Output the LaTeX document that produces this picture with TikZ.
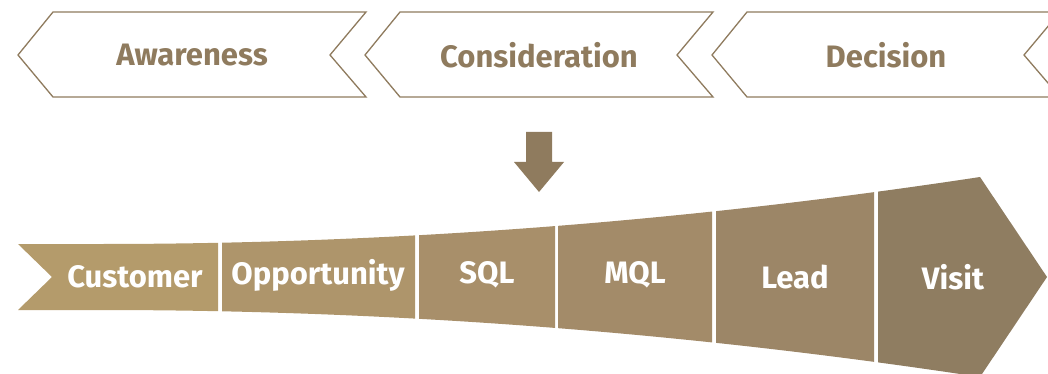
\documentclass[tikz,border=0pt]{standalone}
\usepackage{fontspec}
\setmainfont{Fira Sans}
\begin{document}
\begin{tikzpicture}[x=1pt,y=-1pt,
  stage/.style={draw=brownline,line width=1.3pt,fill=white},
  stagetext/.style={text=brownline,font=\fontsize{31}{32}\selectfont\bfseries},
  segtext/.style={text=white,font=\fontsize{31}{32}\selectfont\bfseries}]
\definecolor{brownline}{HTML}{8F7B5E}
\definecolor{cA}{HTML}{B49B6B}
\definecolor{cB}{HTML}{AE956B}
\definecolor{cC}{HTML}{A88F6A}
\definecolor{cD}{HTML}{A38B69}
\definecolor{cE}{HTML}{9C8667}
\definecolor{cF}{HTML}{8F7D61}
\useasboundingbox (0,0) rectangle (1048,374);
\clip (0,0) rectangle (1048,374);

% stage chevrons (pointing left, notched on the right)
\foreach \dx/\nm in {0/aw,347/co,694/de}{
  \begin{scope}[xshift=\dx pt]
    \draw[stage] (18,55) -- (53,12) -- (366,12) -- (330,55) -- (366,97) -- (53,97) -- cycle;
    \coordinate (\nm) at (192,55);
  \end{scope}
}
\node[stagetext] (awt) at (aw) {Awareness};
\node[stagetext] (cot) at (co) {Consideration};
\node[stagetext] (det) at (de) {Decision};

% down arrow
\fill[brownline] (526,132) -- (552,132) -- (552,162) -- (564,162) -- (539,192) -- (514,162) -- (526,162) -- cycle;

% funnel outline: flat start, parabolic flare, pointed end
\def\funnel{(18,244) -- (100,244) .. controls (393,244) and (686,221.7) .. (980,177)
  -- (1047,277) -- (980,377) .. controls (686,332.3) and (393,310) .. (100,310)
  -- (18,310) -- (52,277) -- cycle}
\foreach \xa/\xb/\col in {0/218/cA,222/415/cB,419/555/cC,558/712/cD,716/874/cE,878/1100/cF}{
  \begin{scope}
    \clip (\xa,0) rectangle (\xb,400);
    \fill[\col] \funnel;
  \end{scope}
}
\node[segtext] (cus) at (135,277) {Customer};
\node[segtext] (opp) at (318,275) {Opportunity};
\node[segtext] (sql) at (487,275) {SQL};
\node[segtext] (mql) at (635,275) {MQL};
\node[segtext] (lea) at (795,277) {Lead};
\node[segtext] (vis) at (953,277) {Visit};
\end{tikzpicture}
\end{document}
